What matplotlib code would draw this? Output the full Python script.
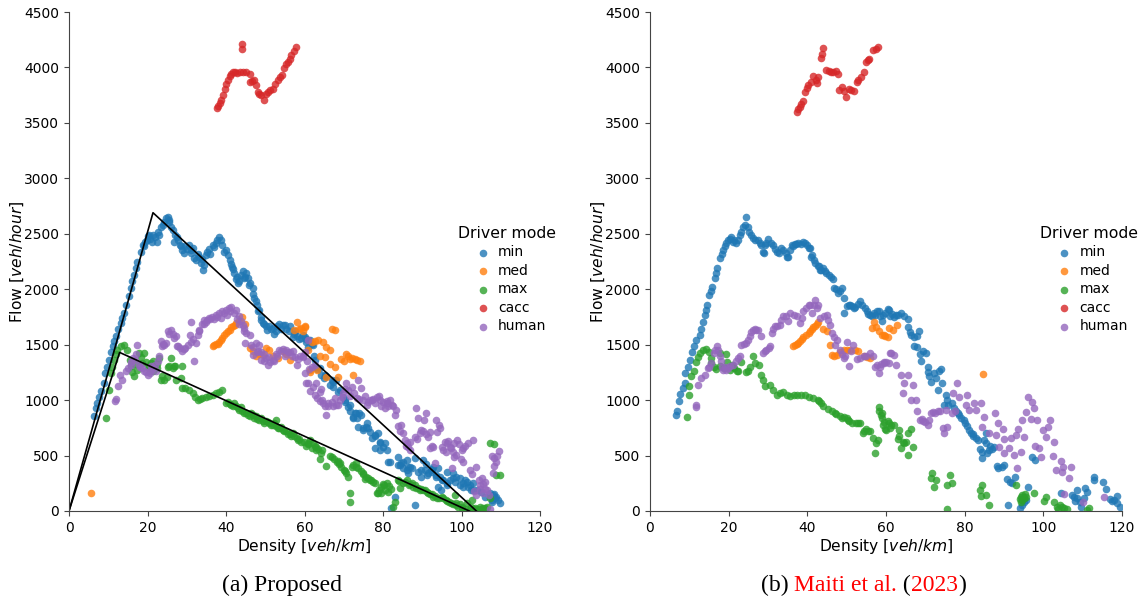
import matplotlib
matplotlib.use('Agg')
import matplotlib.pyplot as plt

# Values as (density, flow)
left_min = [(6.4,860),(6.8,930),(7.2,975),(7.6,1030),(8.1,1080),(8.9,1155),(9.2,1245),(9.7,1300),(10.2,1365),(10.6,1430),(11.1,1485),(11.5,1530),(11.9,1575),(12.5,1640),(13.2,1695),(13.6,1740),(14,1785),(14.6,1860),(15.3,1935),(15.7,2010),(16.1,2070),(16.6,2130),(17,2190),(17.4,2250),(18.3,2340),(18.8,2400),(19.4,2430),(20,2480),(20.6,2450),(21.4,2490),(22,2475),(23,2490),(23.4,2565),(24.2,2610),(25.1,2655),(25.6,2610),(26.4,2535),(26.8,2430),(27.5,2470),(28.2,2400),(28.9,2355),(29.6,2390),(30.6,2400),(31.2,2330),(31.9,2280),(32.8,2320),(33.6,2240),(34.2,2175),(34.9,2310),(35.7,2360),(36.6,2400),(37.5,2420),(38.3,2475),(39,2400),(40,2355),(40.5,2310),(40.9,2265),(41.5,2200),(42.1,2145),(42.8,2110),(43.4,2070),(44.3,2160),(44.9,2110),(45.5,2100),(46.2,2060),(46.8,2010),(47.2,1920),(47.9,1860),(48.5,1815),(49,1750),(49.4,1695),(50.2,1670),(51,1670),(51.9,1650),(52.8,1620),(53.5,1690),(54.5,1680),(55.4,1640),(56.3,1670),(57.2,1600),(58.1,1580),(59,1560),(60,1570),(60.8,1540),(61.8,1510),(62.4,1400),(63,1300),(64,1290),(65,1200),(65.6,1220),(66.5,1135),(67.2,1160),(68,1180),(68.6,1075),(69.9,1030),(70.4,1000),(71,940),(71.7,900),(72.4,850),(73.2,880),(74,880),(75,745),(75.6,760),(76.2,745),(77.1,655),(77.9,680),(78.8,700),(78,565),(79.3,610),(80,580),(81.3,445),(83,130),(82,25),(83.9,490),(84.3,415),(85,440),(86,460),(86,370),(87,400),(88.1,475),(88.1,55),(89,355),(89.8,310),(90.2,460),(90.8,370),(91.5,340),(92.2,370),(92.8,400),(93.5,310),(94,220),(95,280),(96.2,355),(96.2,235),(97,280),(97.8,300),(98.7,310),(99.5,230),(100.4,250),(101,280),(101.7,220),(102.3,190),(103,250),(104,190),(105,170),(106,130),(107.2,160),(107.8,100),(108.4,150),(108.9,130),(109.4,100),(109.8,70),
            (60.5,1555),(62.2,1495),(62.6,1360),(63.1,1285),(64.3,1225),(65.2,1225),(66.9,1180),(67.3,1120),(69,1090),(70.3,985),(71.6,955),(72.8,880),(73.3,835),(72.4,835),(74.5,865),(73.7,760),(75,730),(75.8,790),(76.7,715),(78,685),(79.2,625),(80.5,610),(80.9,550),(79.2,550),(81.7,445),(83.9,415),(84.7,430),(85.1,385),(86.4,400),(86.4,340),(87.3,385),(89.8,370),(91.1,325),(92.4,355),(94,385),(94.5,310),(95.3,280),(96.2,250),(97.9,340),(98.3,265),(99.6,295),(100.4,220),(101.3,265),(102.1,235),(103,190),(94.9,190),(108.1,145),(107.7,85),(108.5,115),(91,420),(92.4,375),(93.6,325),
            (19,2390),(19.8,2440),(20.5,2490),(21.2,2430),(22.5,2430),(22.8,2520),(24,2580),(24.7,2640),(25.4,2620),(26,2560),(27,2490),(27.8,2440),(28.5,2390),(29.3,2330),(30,2360),(31,2350),(31.5,2370),(32.4,2260),(33.2,2290),(33.8,2270),(34.4,2220),(35.2,2340),(36,2320),(37,2380),(37.8,2440),(38.8,2440),(39.4,2340),(41.2,2230),(41.8,2180),(42.5,2090),(43,2060),(43.7,2130),(44.6,2100),(45,2150),(45.9,2040),(47,1960),(47.6,1890),(48.2,1800),(48.9,1720),(49.6,1690),(50.5,1630),(51.4,1640),(52.3,1600),(53,1670),(54,1640),(55,1680),(56,1620),(57,1570),(57.7,1620),(58.5,1550),(59.5,1590),(60.4,1520),(61,1480),(61.4,1540)]
left_med = [(5.5,165),(36.6,1485),(37,1500),(37.4,1510),(37.9,1510),(38.3,1520),(38.7,1545),(39.1,1560),(39.5,1590),(40,1605),(40.5,1620),(40.9,1635),(41.3,1655),(41.7,1670),(42.2,1680),(42.6,1695),(43.4,1715),(44.1,1750),(44.9,1690),(46,1470),(46.8,1440),(47.7,1395),(48.5,1420),(49.4,1410),(50.2,1470),(51,1455),(51.9,1395),(53.2,1380),(54.5,1440),(55.3,1420),(56.2,1365),(57.4,1635),(58,1705),(58.6,1640),(59.1,1650),(59.6,1620),(60,1660),(60.2,1665),(60.9,1450),(61.3,1275),(61.8,1525),(62.6,1530),(63.5,1540),(64.6,1520),(65.6,1480),(66.5,1450),(66.9,1645),(67.7,1630),(63.9,1400),(65.2,1390),(66.5,1330),(67.7,1300),(68.6,1210),(69.4,1375),(70,1350),(70.7,1420),(71.2,1395),(71.6,1375),(72.2,1380),(72.8,1375),(73.4,1365),(74.1,1355),(72.4,1225),(61.4,1255),(63.1,1270),(65.6,1210)]
left_max = [(9.5,840),(10.2,1095),(10.6,1245),(11,1300),(11.5,1365),(11.9,1420),(12.3,1455),(13.2,1485),(14,1495),(14.9,1455),(15.5,1365),(15.7,1305),(16.6,1215),(17.3,1270),(17.9,1425),(19.1,1425),(18.7,1335),(20,1305),(20.8,1335),(23,1380),(21.3,1260),(22.3,1290),(23.8,1215),(24.3,1185),(25.5,1305),(26,1380),(26.8,1305),(28.8,1305),(27.2,1185),(28.5,1200),(28.9,1110),(29.6,1105),(30.6,1095),(31.5,1065),(32.2,1030),(32.8,1005),(33.4,1010),(34,1020),(35,1030),(35.7,1035),(36.6,1045),(37.4,1065),(38.2,1075),(39.1,1090),(40,975),(41,965),(41.8,950),(42.6,945),(43.4,910),(44.2,900),(45.1,885),(46,860),(46.9,870),(47.7,855),(48.5,820),(49.4,815),(50.2,810),(51,790),(52,780),(52.8,825),(52.8,765),(53.6,745),(54.5,730),(55.3,720),(56.2,690),(57,705),(58,660),(58.7,645),(59.8,620),(60.9,600),(61.4,640),(62.2,610),(63,580),(63.9,465),(64.4,550),(65.6,405),(66.9,483),(68.2,444),(68.8,420),(69.4,400),(70.2,360),(71.1,310),(71.6,160),(71.7,85),(72.4,415),(73.1,395),(73.7,385),(74.4,360),(75,340),(75.6,310),(76.2,295),(77,280),(77.5,265),(78.4,160),(79,190),(79.6,220),(80.3,235),(80.9,250),(81.3,175),(82,200),(83,85),(82.6,40),(83.9,280),(84.3,205),(85,250),(86,280),(87,240),(87.7,220),(88.5,205),(89.4,190),(90.3,185),(91.1,175),(92,150),(92.8,130),(93.8,120),(95.3,115),(96.2,90),(97.2,70),(98.3,145),(98.7,70),(99.5,60),(100.2,40),(101.3,70),(102.6,100),(103.5,30),(104.7,40),(105.5,30),(106.4,33),(107.2,610),(108.3,605),(108.9,325),(109.8,325),(107.2,115),
            (40.5,985),(41.4,960),(42,970),(43,925),(43.8,935),(44.6,880),(45.5,870),(46.4,880),(47.2,840),(48,830),(49,840),(49.8,790),(50.6,800),(51.4,780),(52.3,790),(53.2,745),(54,760),(54.9,720),(55.8,695),(56.6,680),(57.4,680),(58.3,640),(59.2,620),(60.3,590),(61,610),(62,570),(62.6,590),(63.4,560),
            (84,270),(85.5,260),(86.6,235),(87.3,250),(88.2,230),(89,210),(89.8,195),(90.7,190),(91.5,165),(92.4,155),(93.3,135),(94.2,115),(95,130),(96,100),(96.8,85),(97.8,60),(98.5,55),(99,40),(100,25),(100.8,20),(101.8,10),(102.4,40),(103,20),(104,15),(105,15),(106,25),
            (72,400),(73,430),(74.8,330),(75.5,290),(76.6,280),(78,250),(79.6,165),(80.5,190),(78.8,165),(80,240),(81.5,225),(66.5,500),(67.5,470),(68.5,450),(69,430),(70,370),(70.6,340),(64.3,520),(63,550),
            (16,1250),(16.9,1330),(18.3,1390),(19.6,1340),(20.5,1290),(21.5,1350),(22.5,1330),(24.9,1210),(25.2,1300),(26.4,1290),(27,1310),(23.5,1180)]
left_cacc = [(37.6,3630),(38,3650),(38.4,3675),(38.8,3710),(39.3,3750),(39.7,3810),(40.1,3850),(40.5,3887),(40.9,3920),(41.4,3945),(41.8,3955),(42.2,3960),(42.8,3950),(43.5,3960),(44.3,3955),(45.2,3955),(46,3945),(44,4165),(44.2,4210),(46,3870),(46.6,3880),(47.2,3890),(47.7,3840),(48.1,3780),(48.5,3765),(49,3750),(49.8,3710),(50.2,3760),(50.6,3780),(51.2,3795),(51.9,3810),(52.5,3850),(53.2,3887),(53.8,3910),(54.3,3930),(54.9,3995),(55.4,4030),(55.8,4050),(56.2,4080),(56.6,4110),(57.2,4150),(57.9,4185)]
left_human = [(11.7,990),(11.9,1014),(12.5,1130),(13,1230),(13.6,1185),(14.5,1260),(15.1,1290),(15.7,1320),(16.3,1380),(17.3,1500),(17.9,1320),(18.5,1290),(19.1,1260),(20,1230),(20.6,1260),(21.3,1290),(22,1320),(22.6,1350),(23.4,1530),(24,1510),(24.7,1515),(25.1,1620),(26,1635),(26.6,1600),(27.2,1575),(27.7,1485),(28.4,1470),(28.9,1440),(29.6,1470),(30.2,1500),(31,1700),(30.8,1590),(31.9,1355),(32.3,1515),(32.8,1590),(33.2,1635),(33.8,1690),(34.5,1725),(35.2,1720),(35.7,1740),(36.5,1750),(37.4,1770),(38.3,1790),(39.1,1800),(40,1815),(40.7,1830),(41.3,1840),(42.5,1815),(43.2,1760),(43.8,1710),(44.5,1650),(45.1,1605),(46,1590),(44.9,1515),(47.7,1515),(48.5,1500),(46.8,1410),(47.8,1430),(48.9,1365),(49.7,1350),(50.6,1320),(51.3,1340),(51.9,1365),(52.7,1420),(53.6,1455),(54.5,1460),(55.3,1455),(56.2,1430),(57,1440),(58,1315),(58.8,1400),(59.6,1395),(60.9,1155),(60.9,1545),(59.7,1390),(61.8,1300),(60.5,1150),(62.2,1120),(63.9,1075),(63.1,1015),(64.8,970),(65.6,865),(66.9,985),(66,975),(68,960),(69,1000),(69.8,1060),(70.7,1150),(72,1120),(73.7,1180),(74.5,1105),(75.3,1040),(76.2,985),(77.3,1005),(78.4,1030),(79.3,1000),(80,985),(80.9,970),(81.7,1000),(82.6,950),(83.4,910),(84.7,775),(85.1,700),(86.4,580),(87,620),(88.3,925),(89,835),(90.9,885),(90.4,820),(88.1,670),(89.8,730),(91.9,715),(93.4,820),(94.5,745),(92.8,580),(96.2,610),(95.4,550),(97,580),(98.9,640),(100.4,565),(101.7,610),(103,640),(98.7,505),(100.4,445),(93.2,430),(97.5,385),(102.1,370),(103.8,400),(105.1,295),(106,265),(108.1,340),(109.6,545),(107.7,495),(108.9,445),(108.3,405),(105.5,160),(107.2,15),(103.8,145),(106,200),(104.6,230),
              (15.9,1340),(16.8,1360),(17,1420),(18.2,1300),(19.5,1250),(20.6,1240),(21,1310),(22.2,1260),(22.9,1400),(23.8,1490),(24.3,1500),(25.6,1600),(26.8,1560),(27.4,1490),(29.3,1460),(31.2,1520),(31.6,1550),(33,1620),(34.5,1690),(35,1700),(36,1730),(36.9,1730),(37.8,1750),(38.7,1740),(39.6,1790),(40.3,1770),(41,1800),(42,1790),(42.7,1730),(43.4,1690),(44.3,1680),(44.7,1620),(46.3,1500),(47,1480),(48.2,1440),(49,1430),(49.7,1420),(50.2,1380),(51,1390),(52.3,1350),(53,1400),(54,1440),(55,1400),(55.8,1430),(56.8,1400),(57.6,1390),(58.3,1370),(60.2,1430),(60.7,1350),(61.2,1280),(62.6,1320),(60.1,1240),
              (64.3,1100),(63,1150),(61.5,1080),(62.7,1050),(64,990),(64.5,1000),(65.3,950),(66,950),(67.3,950),(67.8,1020),(68.5,960),(69.5,1030),(70.2,1100),(71.2,1090),(71.6,1040),(72.5,1060),(73.4,1020),(74,1010),(75,1000),(75.8,960),(76.8,1000),(77.5,1010),(78,970),(78.9,1040),(79.5,950),(80.5,930),(81,990),(81.3,950),(82.2,960),(83,870),(83.9,770),(84.3,720),(85.5,640),(85.8,590),(86,610),(87,550),
              (88.7,650),(89.3,700),(90.3,720),(91,690),(91.4,670),(92,570),(92.4,590),(93.8,710),(94.2,780),(95.8,620),(96.6,630),(97.2,570),(98.1,610),(99.3,600),(100,550),(100.8,590),(95,580),(96,530),(97.8,530),(98.2,490),(99.8,470),(102.6,330),(104.5,280),(105.4,240),(104.8,200),(106.5,190),(103.2,180),(107,140),(108.4,480),(109,500)]
left_fit_1_x = [0, 21.4, 103.8]
left_fit_1_y = [0, 2690, 0]
left_fit_2_x = [0, 12.9, 102]
left_fit_2_y = [0, 1430, 0]

right_min = [(6.5,870),(6.8,900),(7.3,990),(7.7,1055),(8.3,1110),(8.8,1155),(9,1245),(9.6,1295),(10.2,1360),(10.7,1435),(11.1,1485),(11.7,1545),(12.6,1590),(13,1640),(13.4,1705),(13.9,1770),(14.2,1815),(14.6,1860),(15.1,1950),(15.5,1985),(15.8,2020),(16.4,2100),(16.8,2150),(17.1,2190),(17.7,2280),(18.2,2320),(18.6,2355),(19.4,2415),(20.3,2450),(21,2430),(21.4,2440),(22.4,2445),(23.2,2520),(24.1,2580),(24.5,2655),(25.2,2520),(26.2,2460),(27.5,2445),(28.2,2400),(28.8,2340),(29.3,2400),(30,2450),(31.3,2400),(32.3,2340),(33.2,2370),(33.9,2355),(35.1,2295),(36,2400),(36.8,2410),(37.7,2415),(39,2425),(40,2400),(40.7,2370),(41.3,2310),(42,2235),(42.6,2210),(43.2,2175),(44.1,2190),(44.8,2150),(45.4,2130),(46.5,2095),(46.8,2010),(47.9,1965),(48.8,2010),(49.2,1925),(49.4,1785),(50.5,1860),(51.3,1850),(52.2,1840),(53.4,1890),(54.7,1830),(55.5,1780),(56.4,1755),(57.2,1770),(58.1,1800),(59,1710),(59.2,1765),(60.4,1820),(60.9,1755),(60.8,1815),(62.1,1750),(63,1770),(63.8,1785),(65.5,1735),(65.5,1660),(66.3,1585),(68.5,1625),(67.2,1485),(69.3,1445),(70.1,1425),(68.9,1355),(70.6,1300),(72.3,1240),(73.9,1280),(71.4,1165),(74.2,1150),(73.3,1090),(75.2,1045),(74.8,955),(76.9,970),(77.8,900),(78.6,865),(79.9,820),(80.5,770),(81.1,730),(82,690),(82.8,655),(85.4,700),(85.4,610),(84.5,535),(84.5,475),(86.2,550),(87.5,580),(88.1,405),(90,415),(90.7,285),(92.1,250),(92.7,310),(90.9,55),(96,220),(94.1,25),(97.2,485),(98,460),(95.1,85),(104.4,160),(107.3,145),(108.6,190),(110.3,115),(110.7,205),(112.8,310),(112.8,280),(115.2,265),(116,195),(117.5,90),(118.7,135),(118.7,70),(119.6,33),(109.5,40),(108.6,115),
             (19,2390),(19.9,2440),(20.7,2470),(21.8,2420),(22.8,2490),(23.7,2560),(24.8,2560),(25.7,2490),(26.8,2440),(27.9,2420),(29,2330),(29.6,2420),(30.7,2420),(31.8,2360),(32.7,2330),(34.5,2330),(34.8,2290),(35.6,2350),(36.4,2390),(37.2,2405),(38.3,2410),(39.5,2420),(40.3,2370),(41,2290),(41.7,2260),(43,2210),(43.6,2170),(44.5,2160),(45.9,2110),(47.3,2000),(48.2,1980),(50,1850),(50.9,1860),(51.8,1830),(52.8,1870),(54,1860),(55.1,1800),(56,1770),(56.9,1790),(57.7,1800),(58.6,1760),(59.8,1790),(61.4,1780),(62.5,1770),(64.7,1760),(66,1610),(67,1570),(67.8,1580),(68,1480),(68.6,1420),(70.8,1250),(71,1220),(72.8,1200),(73.5,1260),(75.7,960),(75.4,1000),(77.3,930),(78.2,880),(79,840),(80,790),(81.5,700),(82.2,680),(83.3,640),(84,560),(85,640),(86.5,590),(87,560),(85.8,520),(88.6,390),(89.5,400),(91.4,260),(95.5,100),(94.7,50),(108,90),(107.8,130),(109.2,80),(111,170),(117,110),(118,100)]
right_med = [(36.3,1485),(36.8,1495),(37.3,1510),(37.7,1515),(38.1,1530),(38.6,1550),(39,1570),(39.6,1590),(40.3,1605),(40.7,1625),(41.1,1640),(41.5,1655),(42,1670),(42.4,1685),(42.8,1700),(43.9,1640),(44.9,1620),(45.8,1500),(46.2,1410),(46.9,1400),(47.5,1410),(48.3,1430),(49.2,1455),(50,1450),(50.9,1455),(52,1450),(53,1440),(54.3,1395),(55.2,1385),(56,1380),(56.4,1650),(57,1700),(57.5,1660),(58.1,1620),(59,1590),(59.8,1575),(60.7,1650),(59.6,1585),(60.4,1565),(61.7,1630),(62.7,1675),(84.7,1235)]
right_max = [(9.4,850),(9.9,1050),(10,1125),(10.5,1220),(11.1,1260),(11.7,1340),(12.2,1385),(12.6,1425),(13.4,1455),(14.3,1465),(15.1,1430),(15.6,1335),(16.7,1280),(17.7,1425),(19.2,1420),(17.7,1305),(18.8,1290),(20.4,1275),(21.4,1290),(22.4,1260),(23.2,1340),(24.5,1250),(25.4,1300),(26.2,1395),(26.6,1335),(27.7,1315),(28.3,1230),(28.8,1180),(29.2,1130),(30.5,1140),(31.3,1095),(32.3,1050),(33.1,1060),(33.9,1070),(34.8,1050),(35.6,1035),(36.5,1045),(37.3,1050),(38.4,1050),(39.4,1050),(40.5,1030),(41.5,1015),(42.8,1005),(43.5,970),(44.1,945),(45.2,920),(46.2,900),(47.3,875),(48.3,855),(49.2,850),(50,840),(50.7,810),(51.3,795),(52.4,795),(53.4,795),(54.1,705),(55,740),(56,720),(56.6,660),(57.9,640),(57.5,610),(57.1,520),(58.3,940),(58.1,900),(59,840),(59.8,740),(60.4,810),(59,880),(59.6,805),(60.8,790),(62.1,775),(60,730),(63.4,730),(66.3,735),(65.5,700),(63,645),(64.6,610),(63.8,565),(66.8,580),(65.7,505),(71.8,345),(71.4,295),(72.7,280),(72.1,220),(76.3,325),(76.9,255),(75.6,235),(75.4,15),(84.5,235),(83.8,190),(85.4,145),(84.1,135),(86.2,50),(93,230),(94.2,130),(95.1,115),(94.7,145),(94.5,100),(95.4,150),(97.6,160),(100.2,90),(100.6,130),(102.7,85),(103.5,33),(105.2,25),(104.3,50),(106,15),(111,10),(111.6,25),
             (21,1300),(22,1260),(20.8,1320),(25,1260),(16.2,1300),(15.4,1380),(19.6,1340),(43,990),(47,880),(48.9,840),(50.4,820),(52.9,790),(54.5,720),(55.5,720),(58.7,870),(59.3,780),(61.3,780),(61,745),(63.2,680),(64.2,620),(65.2,620),(95,120),(94,110),(94.4,85),(95.6,130),(104.7,35),(103.8,20)]
right_cacc = [(37.3,3600),(37.7,3625),(38.1,3645),(38.5,3670),(38.9,3695),(39.5,3780),(39.8,3815),(40.2,3840),(41,3870),(41.5,3920),(42.1,3890),(42.7,3915),(42.5,3860),(43.4,4085),(43.7,4125),(44.1,4175),(44.8,3975),(45.4,3965),(46,3960),(46.6,3960),(47.3,3970),(47.7,3945),(48.1,3795),(48.9,3825),(49.3,3790),(49.8,3735),(50.6,3810),(51.2,3800),(51.9,3785),(52.5,3870),(53,3890),(53.6,3915),(54.4,3960),(54.9,4050),(55.3,4065),(55.7,4080),(56.6,4155),(57.4,4170),(58,4185)]
right_human = [(11.6,960),(11.7,940),(12.2,1140),(13,1200),(14,1230),(14.7,1290),(15.6,1335),(16.2,1425),(17,1485),(17.7,1395),(18.6,1275),(19.2,1270),(19.8,1290),(21.1,1320),(22.8,1395),(23.2,1495),(24.5,1515),(25.4,1575),(26.2,1635),(27.5,1635),(28.1,1575),(28.8,1425),(29.6,1455),(30.5,1485),(30.9,1605),(31.7,1665),(33,1680),(33.9,1755),(35.6,1785),(35.1,1710),(37.3,1755),(38.1,1695),(39,1800),(40.3,1860),(42,1905),(42.4,1830),(41.1,1790),(43.2,1740),(44.9,1770),(45.8,1680),(46.2,1605),(47.5,1545),(50,1520),(48.3,1455),(49.2,1380),(50.7,1305),(51.7,1495),(52.6,1370),(54.3,1395),(56,1425),(57.7,1320),(58.1,1245),(59.4,1335),(60.7,1335),(61.1,1425),(58.7,1330),(59.6,1345),(61.3,1425),(62.1,1405),(62.5,1315),(63.8,1225),(65.5,1230),(64.6,1150),(66.8,1135),(64.2,1060),(66.3,1000),(67.6,1005),(68,905),(68.7,820),(70.6,775),(69.5,810),(71.4,885),(73.1,905),(72,890),(74.4,745),(74.8,700),(75.6,760),(75.2,910),(76.9,880),(78.1,1155),(77.1,1065),(78.6,1030),(80.7,1045),(80.3,955),(82.4,970),(84.1,970),(82.8,910),(81.1,910),(84.9,850),(87.6,885),(88.5,790),(89.8,740),(84.5,760),(86.2,700),(87.9,685),(90,645),(91.7,655),(93.6,735),(95.1,670),(93,685),(91.3,565),(88.7,580),(90,520),(92.5,505),(94.2,530),(93.2,385),(96.1,1030),(97.2,985),(97.6,925),(95.7,895),(94.7,825),(96.8,830),(98.5,825),(101.7,820),(99.9,730),(101.2,760),(100.7,670),(102.7,625),(98,590),(98.9,565),(99.3,490),(102.5,500),(104.4,450),(105.1,395),(103.1,370),(104.8,350),(107.1,395),(106.5,300),(115.4,125),(110.1,80),(105.2,155),
               (15,1300),(16.6,1450),(17.2,1450),(18,1350),(18.2,1300),(19,1300),(20.4,1310),(21.8,1350),(22.3,1380),(23.8,1510),(25,1540),(25.8,1610),(26.8,1640),(27,1630),(29.2,1440),(30.2,1470),(31.3,1640),(32.3,1670),(33.4,1720),(34.5,1760),(36.5,1770),(38.6,1740),(39.6,1830),(40.8,1860),(41.6,1860),(42.8,1860),(44.3,1760),(45.2,1720),(46.8,1570),(47,1500),(48.7,1420),(49.7,1400),(51,1440),(53.3,1380),(55,1400),(56.8,1400),(57.2,1300),(58.4,1300),(60,1340),(69.2,830),(70,800),(71,820),(72.5,880),(73.8,900),(77.5,900)]

modes = ['min', 'med', 'max', 'cacc', 'human']
colors = ['#1f77b4', '#ff7f0e', '#2ca02c', '#d62728', '#9467bd']
x_ticks = [0, 20, 40, 60, 80, 100, 120]
y_ticks = [0, 500, 1000, 1500, 2000, 2500, 3000, 3500, 4000, 4500]

W, H = 1142, 599
fig = plt.figure(figsize=(W / 100, H / 100), dpi=100)
ax1 = fig.add_axes([69 / W, (H - 511) / H, 471 / W, 499 / H])
ax2 = fig.add_axes([650 / W, (H - 511) / H, 472 / W, 499 / H])


def draw_panel(ax, series):
    for pts, mode, c in zip(series, modes, colors):
        xs, ys = zip(*pts)
        ax.scatter(xs, ys, s=30, color=c, alpha=0.8, linewidths=0, label=mode)
    ax.set_xlim(0, 120)
    ax.set_ylim(0, 4500)
    ax.set_xticks(x_ticks)
    ax.set_yticks(y_ticks)
    ax.tick_params(labelsize=10, color='#444444')
    ax.spines['top'].set_visible(False)
    ax.spines['right'].set_visible(False)
    ax.spines['left'].set_color('#444444')
    ax.spines['bottom'].set_color('#444444')
    ax.set_xlabel(r'Density [$veh/km$]', fontsize=11.2, labelpad=2)
    ax.set_ylabel(r'Flow [$veh/hour$]', fontsize=11.2, labelpad=-1)
    ax.legend(title='Driver mode', frameon=False, fontsize=10, title_fontsize=11.3,
              loc='upper left', bbox_to_anchor=(0.812, 0.585), labelspacing=0.32,
              handletextpad=0.1, borderpad=0)


draw_panel(ax1, [left_min, left_med, left_max, left_cacc, left_human])
draw_panel(ax2, [right_min, right_med, right_max, right_cacc, right_human])

ax1.plot(left_fit_1_x, left_fit_1_y, color='black', lw=1.2)
ax1.plot(left_fit_2_x, left_fit_2_y, color='black', lw=1.2)

# captions
serif = 'Liberation Serif'
fig.text(282 / W, 1 - 591 / H, '(a) Proposed', family=serif, fontsize=17, ha='center', va='baseline')

renderer = fig.canvas.get_renderer()
x = 761
for s, c in [('(b) ', 'black'), ('Maiti et al.', 'red'), (' (', 'black'), ('2023', 'red'), (')', 'black')]:
    t = fig.text(x / W, 1 - 591 / H, s, family=serif, fontsize=17, color=c, ha='left', va='baseline')
    x += t.get_window_extent(renderer).width

fig.savefig('out.png', dpi=100)
